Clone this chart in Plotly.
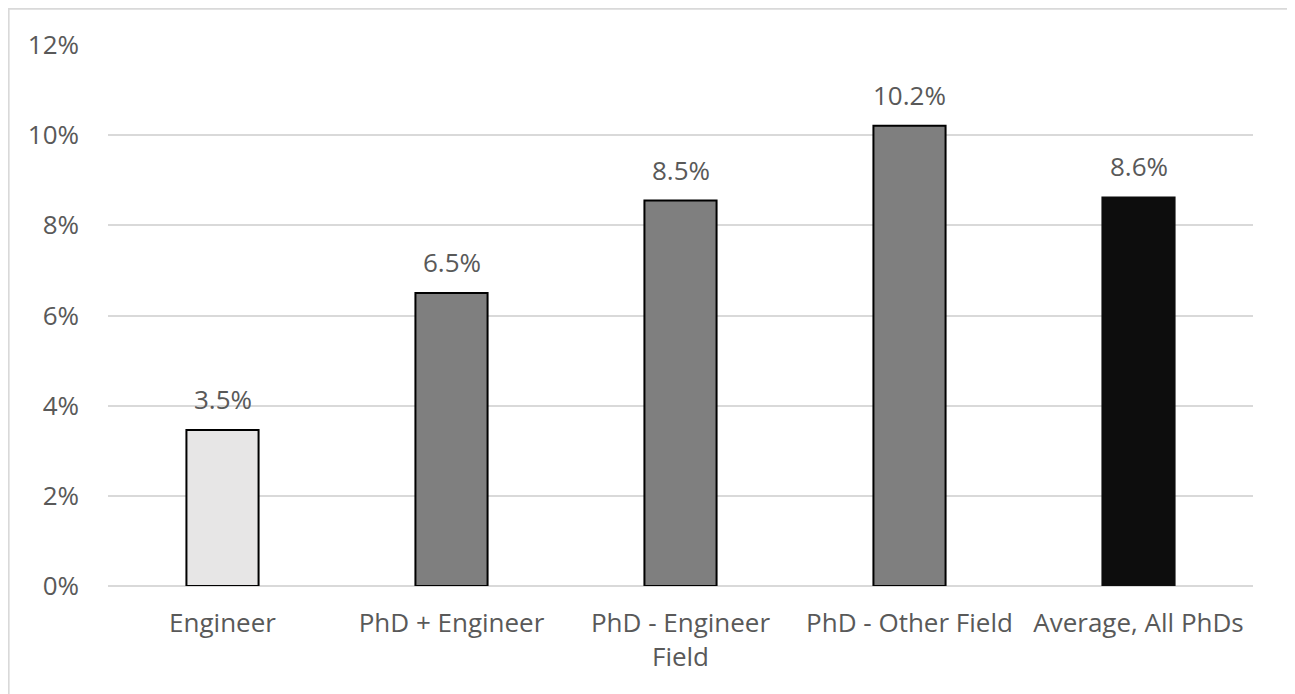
import plotly.graph_objects as go

categories = ["Engineer", "PhD + Engineer", "PhD - Engineer<br>Field", "PhD - Other Field", "Average, All PhDs"]
values = [3.46, 6.50, 8.55, 10.21, 8.62]
labels = ["3.5%", "6.5%", "8.5%", "10.2%", "8.6%"]
colors = ["#e7e6e6", "#7f7f7f", "#7f7f7f", "#7f7f7f", "#0d0d0d"]
line_colors = ["#000000", "#000000", "#000000", "#000000", "#0d0d0d"]
tick_vals = [0, 2, 4, 6, 8, 10, 12]
tick_text = ["0%", "2%", "4%", "6%", "8%", "10%", "12%"]

FONT = "Open Sans"
TXT = "#595959"
FS = 26

fig = go.Figure()
fig.add_trace(go.Bar(
    x=categories, y=values,
    marker=dict(color=colors, line=dict(color=line_colors, width=2)),
    hoverinfo="skip",
))

for c, v, t in zip(categories, values, labels):
    fig.add_annotation(x=c, y=v, text=t, showarrow=False, yanchor="bottom",
                       yshift=11, font=dict(family=FONT, size=FS, color=TXT))

fig.add_shape(type="rect", xref="paper", yref="paper",
              x0=-0.0868, x1=1.0315, y0=-0.25, y1=1.067,
              line=dict(color="#d9d9d9", width=2), fillcolor="rgba(0,0,0,0)")

fig.update_layout(
    width=1295, height=694,
    margin=dict(l=100, r=50, t=37, b=116),
    paper_bgcolor="white", plot_bgcolor="white",
    bargap=0.685,
    showlegend=False,
    font=dict(family=FONT, size=FS, color=TXT),
    xaxis=dict(showgrid=False, showline=False, ticks="", ticklabelstandoff=19,
               tickfont=dict(size=FS, color=TXT)),
    yaxis=dict(range=[0, 12], tickvals=tick_vals, ticktext=tick_text,
               showgrid=True, gridcolor="#d9d9d9", gridwidth=1.5,
               zeroline=True, zerolinecolor="#d9d9d9", zerolinewidth=1.5,
               showline=False, ticks="", ticklabelstandoff=28,
               tickfont=dict(size=FS, color=TXT)),
)

fig.write_html("out.html")
